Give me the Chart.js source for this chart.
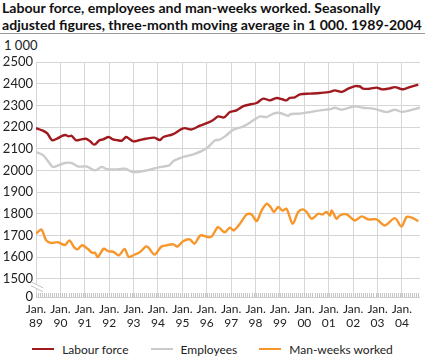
<!DOCTYPE html>
<html><head><meta charset="utf-8">
<script src="https://cdn.jsdelivr.net/npm/chart.js@4/dist/chart.umd.min.js"></script>
<style>
html,body{margin:0;padding:0;width:425px;height:362px;overflow:hidden;background:#fff;font-family:Lato,sans-serif;color:#1a1a1a;}
#title{position:absolute;left:2px;top:-1px;font-weight:bold;font-size:14.1px;line-height:17px;color:#111;white-space:nowrap;}
#rule{position:absolute;left:0;top:33px;width:425px;height:1px;background:#9a9a9a;}
#unit{position:absolute;left:4px;top:37px;font-size:13px;color:#222;}
#wrap{position:absolute;left:0;top:0;width:425px;height:336px;}
#legend{position:absolute;left:0;top:340px;width:425px;height:18px;display:flex;justify-content:center;align-items:center;font-size:12px;color:#222;}
.item{display:flex;align-items:center;margin:0 11px;}
.sw{width:22px;height:2px;margin-right:8px;}
</style></head>
<body>
<div id="title">Labour force, employees and man-weeks worked. Seasonally<br>adjusted figures, three-month moving average in 1 000. 1989-2004</div>
<div id="rule"></div>
<div id="unit">1 000</div>
<div id="wrap"><canvas id="c"></canvas></div>
<div id="legend"></div>
<script>
// ---- data (decimal year, value in 1 000) ----
const seriesNames = ['Labour force', 'Employees', 'Man-weeks worked'];
const seriesColors = ['#a0191e', '#cbcbcb', '#f7962b'];

const labourT = [1989.00,1989.25,1989.45,1989.66,1989.85,1990.07,1990.20,1990.35,1990.45,1990.64,1990.85,1991.05,1991.22,1991.39,1991.60,1991.75,1991.98,1992.15,1992.35,1992.52,1992.69,1992.82,1992.99,1993.25,1993.50,1993.85,1994.08,1994.22,1994.60,1994.94,1995.10,1995.38,1995.70,1996.04,1996.25,1996.47,1996.70,1996.95,1997.22,1997.50,1997.80,1998.04,1998.32,1998.59,1998.86,1999.10,1999.27,1999.40,1999.61,1999.82,2000.23,2000.64,2001.05,2001.25,2001.53,2001.80,2002.08,2002.28,2002.41,2002.69,2002.96,2003.17,2003.44,2003.71,2003.85,2004.05,2004.32,2004.67];
const labourV = [2195,2185,2172,2139,2146,2159,2163,2157,2160,2139,2143,2146,2134,2119,2139,2143,2154,2143,2139,2137,2154,2146,2134,2140,2146,2151,2140,2154,2166,2189,2195,2189,2205,2220,2231,2249,2244,2269,2277,2296,2305,2311,2331,2323,2334,2328,2323,2334,2337,2351,2354,2357,2362,2369,2362,2377,2389,2387,2377,2377,2382,2374,2377,2384,2380,2374,2384,2396];

const employeesT = [1989.00,1989.30,1989.57,1989.70,1989.91,1990.19,1990.46,1990.73,1991.08,1991.42,1991.69,1991.90,1992.37,1992.65,1992.92,1993.10,1993.30,1993.67,1993.95,1994.22,1994.46,1994.63,1995.04,1995.45,1995.80,1996.06,1996.34,1996.50,1996.75,1997.09,1997.50,1997.91,1998.18,1998.45,1998.73,1999.00,1999.34,1999.45,1999.82,2000.23,2000.64,2001.05,2001.25,2001.53,2002.08,2002.41,2002.83,2003.37,2003.71,2003.98,2004.32,2004.74];
const employeesV = [2085,2069,2031,2015,2023,2034,2034,2018,2018,2000,2016,2006,2005,2008,1994,1992,1995,2003,2012,2018,2023,2043,2062,2074,2090,2108,2139,2141,2157,2188,2203,2231,2249,2246,2262,2265,2252,2260,2262,2269,2277,2282,2289,2280,2296,2289,2285,2269,2280,2270,2277,2289];

const manWeeksT = [1989.00,1989.22,1989.42,1989.62,1989.89,1990.19,1990.37,1990.56,1990.70,1990.89,1991.14,1991.30,1991.42,1991.53,1991.77,1991.96,1992.20,1992.40,1992.63,1992.80,1993.05,1993.26,1993.50,1993.60,1993.86,1994.13,1994.33,1994.62,1994.80,1995.03,1995.30,1995.50,1995.74,1996.05,1996.20,1996.46,1996.65,1996.75,1996.95,1997.10,1997.36,1997.64,1997.84,1998.04,1998.25,1998.45,1998.62,1998.75,1998.93,1999.10,1999.27,1999.52,1999.75,1999.95,2000.09,2000.30,2000.57,2000.75,2000.91,2001.05,2001.12,2001.32,2001.45,2001.73,2002.07,2002.35,2002.62,2002.96,2003.30,2003.71,2003.98,2004.19,2004.40,2004.67];
const manWeeksV = [1708,1727,1677,1665,1669,1656,1677,1646,1636,1655,1636,1620,1620,1600,1638,1628,1623,1608,1638,1601,1612,1623,1649,1645,1612,1648,1654,1659,1649,1673,1682,1662,1700,1692,1695,1738,1720,1715,1736,1723,1754,1797,1797,1766,1815,1846,1830,1808,1831,1815,1823,1754,1808,1820,1808,1777,1800,1797,1808,1792,1815,1777,1792,1797,1769,1788,1774,1774,1746,1780,1741,1785,1782,1766];

const xTickYears = [1989,1990,1991,1992,1993,1994,1995,1996,1997,1998,1999,2000,2001,2002,2003,2004];
const xTickLabels = ['89','90','91','92','93','94','95','96','97','98','99','00','01','02','03','04'];
const yTickValues = [1500,1600,1700,1800,1900,2000,2100,2200,2300,2400,2500];
const yTickLabels = ['1500','1600','1700','1800','1900','2000','2100','2200','2300','2400','2500'];
const zeroLabel = '0';
const breakValue = 1416;   // where "0" sits below the axis break
const xMax = 2004.74;

const toPts = (t, v) => t.map((x, i) => ({x: x, y: v[i]}));

// legend (HTML)
const lg = document.getElementById('legend');
seriesNames.forEach((n, i) => {
  const d = document.createElement('div'); d.className = 'item';
  const s = document.createElement('span'); s.className = 'sw'; s.style.background = seriesColors[i];
  d.appendChild(s); d.appendChild(document.createTextNode(n)); lg.appendChild(d);
});

const FONT = 'Lato, sans-serif';

const decor = {
  id: 'decor',
  beforeDatasetsDraw(chart) {
    const {ctx, scales} = chart;
    const x = scales.x, y = scales.y;
    ctx.save();
    const yb = y.getPixelForValue(breakValue);
    ctx.strokeStyle = '#c4c4c4'; ctx.lineWidth = 1;
    for (let m = 0; m <= (xMax - 1989) * 12; m++) {
      const px = Math.round(x.getPixelForValue(1989 + m / 12)) + 0.5;
      ctx.beginPath(); ctx.moveTo(px, yb); ctx.lineTo(px, yb - 4); ctx.stroke();
    }
    ctx.restore();
  },
  afterDraw(chart) {
    const {ctx, scales} = chart;
    const x = scales.x, y = scales.y;
    const y15 = y.getPixelForValue(1500);
    const x0 = x.getPixelForValue(1989);
    ctx.save();
    ctx.fillStyle = '#fff';
    ctx.beginPath();
    ctx.moveTo(x0 - 5, y15 + 3); ctx.lineTo(x0 + 7, y15 + 9);
    ctx.lineTo(x0 + 7, y15 + 13); ctx.lineTo(x0 - 5, y15 + 7); ctx.closePath(); ctx.fill();
    ctx.strokeStyle = '#c4c4c4'; ctx.lineWidth = 1;
    ctx.beginPath(); ctx.moveTo(x0 - 5, y15 + 3); ctx.lineTo(x0 + 7, y15 + 9); ctx.stroke();
    ctx.beginPath(); ctx.moveTo(x0 - 5, y15 + 7); ctx.lineTo(x0 + 7, y15 + 13); ctx.stroke();
    ctx.restore();
  }
};

new Chart(document.getElementById('c'), {
  type: 'line',
  data: {
    datasets: [
      {label: seriesNames[0], data: toPts(labourT, labourV), borderColor: seriesColors[0]},
      {label: seriesNames[1], data: toPts(employeesT, employeesV), borderColor: seriesColors[1]},
      {label: seriesNames[2], data: toPts(manWeeksT, manWeeksV), borderColor: seriesColors[2]}
    ].map(d => Object.assign(d, {borderWidth: 2.4, pointRadius: 0, tension: 0.3, fill: false, borderJoinStyle: 'round'}))
  },
  options: {
    responsive: true, maintainAspectRatio: false, animation: false,
    layout: {padding: {top: 62, right: 5, left: 0, bottom: 0}},
    plugins: {legend: {display: false}, tooltip: {enabled: false}},
    scales: {
      x: {
        type: 'linear', min: 1989, max: xMax,
        afterBuildTicks: s => { s.ticks = xTickYears.map(v => ({value: v})); },
        afterFit: s => { s.height = 39; },
        grid: {color: '#d6d6d6', lineWidth: 1, drawTicks: false},
        border: {display: false},
        ticks: {
          autoSkip: false, maxRotation: 0, padding: 5, color: '#222',
          font: {family: FONT, size: 12, lineHeight: 1.2},
          callback: (v) => ['Jan.', xTickLabels[xTickYears.indexOf(v)]]
        }
      },
      y: {
        min: breakValue, max: 2500,
        afterBuildTicks: s => { s.ticks = [breakValue].concat(yTickValues).map(v => ({value: v})); },
        afterFit: s => { s.width = 36; },
        grid: {color: (c) => c.tick && c.tick.value === breakValue ? '#cfcfcf' : '#d6d6d6', lineWidth: 1, drawTicks: false},
        border: {display: false},
        ticks: {
          padding: 3, color: '#222', font: {family: FONT, size: 13},
          callback: (v) => v === breakValue ? zeroLabel : yTickLabels[yTickValues.indexOf(v)]
        }
      }
    }
  },
  plugins: [decor]
});
</script>
</body></html>
